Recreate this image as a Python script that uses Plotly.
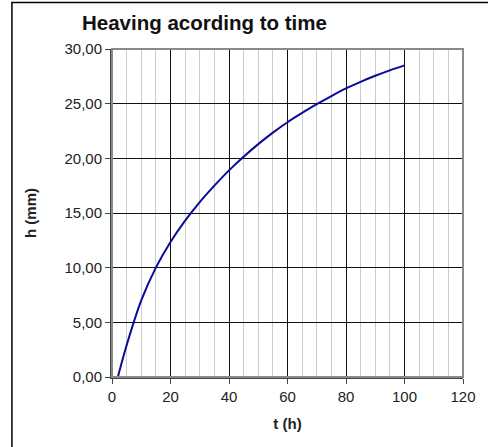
import plotly.graph_objects as go

t_hours = [0, 2, 5, 10, 15, 20, 25, 30, 35, 40, 45, 50, 55, 60, 65, 70, 75, 80, 85, 90, 95, 100]
heave_mm = [0.0, 0.0, 2.9, 7.0, 10.0, 12.35, 14.3, 16.0, 17.5, 18.9, 20.15, 21.3, 22.35, 23.3, 24.15, 24.95, 25.7, 26.4, 27.0, 27.55, 28.05, 28.5]

title_text = "Heaving acording to time"
x_title = "t (h)"
y_title = "h (mm)"

FONT = "Liberation Sans, Arial, Helvetica, sans-serif"
LINE_COLOR = "#0a0a96"

fig = go.Figure()
# flat initial part (before heave starts) drawn straight, then smooth curve
fig.add_trace(go.Scatter(x=t_hours[:2], y=heave_mm[:2], mode="lines",
                         line=dict(color=LINE_COLOR, width=2),
                         hoverinfo="skip", showlegend=False))
fig.add_trace(go.Scatter(x=t_hours[1:], y=heave_mm[1:], mode="lines",
                         line=dict(color=LINE_COLOR, width=2, shape="spline", smoothing=0.8),
                         hoverinfo="skip", showlegend=False))

fig.update_layout(
    width=488, height=447,
    margin=dict(l=112, r=20, t=49, b=70),
    paper_bgcolor="white", plot_bgcolor="white",
    separators=", ",
    font=dict(family=FONT, size=15, color="#222222"),
    showlegend=False,
)

fig.update_xaxes(
    range=[0, 120], dtick=20, tick0=0,
    showgrid=True, gridcolor="#111111", gridwidth=1,
    minor=dict(dtick=5, showgrid=True, gridcolor="#cccccc", gridwidth=1),
    showline=True, linecolor="#444444", linewidth=2,
    ticks="outside", ticklen=5, tickcolor="#444444",
    zeroline=False,
    title=dict(text="<b>" + x_title + "</b>", font=dict(size=15, color="#222222"), standoff=14),
)
fig.update_yaxes(
    range=[0, 30], dtick=5, tick0=0, tickformat=".2f",
    showgrid=True, gridcolor="#111111", gridwidth=1,
    showline=True, linecolor="#444444", linewidth=2,
    ticks="outside", ticklen=5, tickcolor="#444444",
    zeroline=False,
    title=dict(text="<b>" + y_title + "</b>", font=dict(size=15, color="#222222"), standoff=24),
)

# plot area frame (top/right gray)
fig.add_shape(type="rect", xref="paper", yref="paper", x0=0, x1=1, y0=0, y1=1,
              line=dict(color="#8a8a8a", width=2), layer="above")
# outer chart border
fig.add_shape(type="rect", xref="paper", yref="paper",
              x0=(10.5 - 112) / 356, x1=1.2, y0=-0.3, y1=(377 - 2.5) / 328,
              line=dict(color="#000000", width=1.5), layer="below")

fig.add_annotation(text="<b>" + title_text + "</b>", xref="paper", yref="paper",
                   x=(80 - 112) / 356, y=(377 - 22) / 328, xanchor="left", yanchor="middle",
                   showarrow=False, font=dict(size=20.5, color="#111111", family=FONT))

fig.write_html("out.html")
